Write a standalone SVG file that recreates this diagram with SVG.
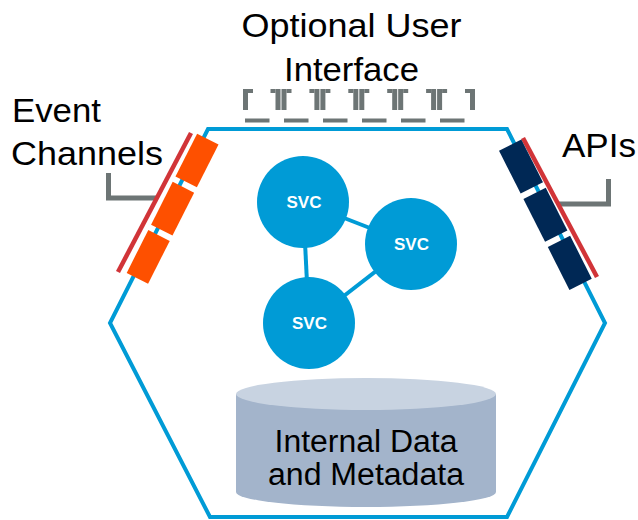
<svg xmlns="http://www.w3.org/2000/svg" width="638" height="520" viewBox="0 0 638 520">
<defs>
<style>
.lbl{font-family:"Liberation Sans",Arial,sans-serif;font-size:33px;fill:#000}
.db{font-family:"Liberation Sans",Arial,sans-serif;font-size:31px;fill:#000}
.svc{font-family:"Liberation Sans",Arial,sans-serif;font-size:17px;font-weight:bold;fill:#fff;text-anchor:middle}
.blue{stroke:#009bd6;stroke-width:4;fill:none}
.grey{fill:#6d7575}
.bracket{stroke:#6d7575;stroke-width:5;fill:none}
.red{stroke:#d13438;stroke-width:4.5}
.orange{fill:#fe5000}
.navy{fill:#002855}
</style>
</defs>
<rect width="638" height="520" fill="#fff"/>
<g id="hexagon">
<polygon class="blue" points="208,129 507,129 605,323 507,517 210,517 110,323"/>
</g>
<g id="connectors">
<line class="blue" x1="303" y1="202" x2="411" y2="244"/>
<line class="blue" x1="303" y1="202" x2="309" y2="323"/>
<line class="blue" x1="411" y1="244" x2="309" y2="323"/>
<path class="bracket" d="M108.5,173 V198 H157"/>
<path class="bracket" d="M608.5,179 V204 H559"/>
</g>
<g id="svc1">
<circle cx="303" cy="202" r="46" fill="#009bd6"/>
<text class="svc" x="304" y="207.5">SVC</text>
</g>
<g id="svc2">
<circle cx="411" cy="244" r="46" fill="#009bd6"/>
<text class="svc" x="411.5" y="250">SVC</text>
</g>
<g id="svc3">
<circle cx="309" cy="323" r="46" fill="#009bd6"/>
<text class="svc" x="309.5" y="329">SVC</text>
</g>
<g id="database">
<path d="M236,394 V492 A130,15 0 0 0 496,492 V394 Z" fill="#a3b4cb"/>
<ellipse cx="366" cy="394" rx="130" ry="16" fill="#c8d3e1"/>
<text class="db" x="366" y="452" text-anchor="middle" textLength="183" lengthAdjust="spacingAndGlyphs">Internal Data</text>
<text class="db" x="366" y="485" text-anchor="middle" textLength="196" lengthAdjust="spacingAndGlyphs">and Metadata</text>
</g>
<g id="event-channels">
<line class="red" x1="118" y1="272" x2="191" y2="133"/>
<rect class="orange" x="-12" y="-24" width="24" height="48" transform="translate(197,160.5) rotate(26.8)"/>
<rect class="orange" x="-12" y="-24" width="24" height="48" transform="translate(172.6,208.7) rotate(26.8)"/>
<rect class="orange" x="-12" y="-24" width="24" height="48" transform="translate(148.2,256.9) rotate(26.8)"/>
<text class="lbl" x="12" y="121.5" textLength="89" lengthAdjust="spacingAndGlyphs">Event</text>
<text class="lbl" x="11" y="165" textLength="152" lengthAdjust="spacingAndGlyphs">Channels</text>
</g>
<g id="apis">
<line class="red" x1="523" y1="138" x2="597" y2="277"/>
<rect class="navy" x="-12.5" y="-24" width="25" height="48" transform="translate(521,166.5) rotate(-26.8)"/>
<rect class="navy" x="-12.5" y="-24" width="25" height="48" transform="translate(545.4,214.7) rotate(-26.8)"/>
<rect class="navy" x="-12.5" y="-24" width="25" height="48" transform="translate(569.8,262.9) rotate(-26.8)"/>
<text class="lbl" x="562" y="156.7" textLength="74" lengthAdjust="spacingAndGlyphs">APIs</text>
</g>
<g id="user-interface">
<text class="lbl" x="351.5" y="36.7" text-anchor="middle" textLength="220" lengthAdjust="spacingAndGlyphs">Optional User</text>
<text class="lbl" x="351.5" y="80.5" text-anchor="middle" textLength="135" lengthAdjust="spacingAndGlyphs">Interface</text>
<g class="grey">
<rect x="243" y="89" width="5" height="21"/><rect x="248" y="89" width="5" height="4"/>
<rect x="270.5" y="89" width="5" height="4"/><rect x="275.5" y="89" width="5" height="21"/><rect x="281.5" y="89" width="5" height="21"/><rect x="286.5" y="89" width="5" height="4"/>
<rect x="309.4" y="89" width="5" height="4"/><rect x="314.4" y="89" width="5" height="21"/><rect x="320.4" y="89" width="5" height="21"/><rect x="325.4" y="89" width="5" height="4"/>
<rect x="348.3" y="89" width="5" height="4"/><rect x="353.3" y="89" width="5" height="21"/><rect x="359.3" y="89" width="5" height="21"/><rect x="364.3" y="89" width="5" height="4"/>
<rect x="387.2" y="89" width="5" height="4"/><rect x="392.2" y="89" width="5" height="21"/><rect x="398.2" y="89" width="5" height="21"/><rect x="403.2" y="89" width="5" height="4"/>
<rect x="426.1" y="89" width="5" height="4"/><rect x="431.1" y="89" width="5" height="21"/><rect x="437.1" y="89" width="5" height="21"/><rect x="442.1" y="89" width="5" height="4"/>
<rect x="465" y="89" width="5" height="4"/><rect x="470" y="89" width="5" height="21"/>
<rect x="245" y="118.5" width="24.5" height="4"/>
<rect x="284" y="118.5" width="24.5" height="4"/>
<rect x="323" y="118.5" width="24.5" height="4"/>
<rect x="362" y="118.5" width="24.5" height="4"/>
<rect x="401" y="118.5" width="24.5" height="4"/>
<rect x="440" y="118.5" width="24.5" height="4"/>
</g>
</g>
</svg>
